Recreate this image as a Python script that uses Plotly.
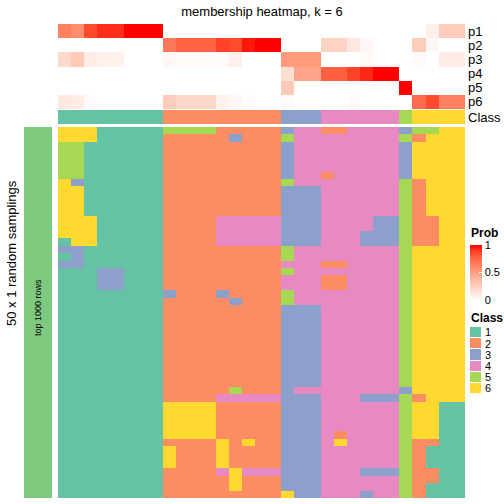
import plotly.graph_objects as go

W = H = 504

# ---------------- data ----------------
columns = list(range(31))
column_class = [1, 1, 1, 1, 1, 1, 1, 1,
                2, 2, 2, 2, 2, 2, 2, 2, 2,
                3, 3, 3,
                4, 4, 4, 4, 4, 4,
                5,
                6, 6, 6, 6]

p1 = [0.64, 0.58, 0.86, 0.92, 0.92, 1, 1, 1,
      0, 0, 0, 0, 0, 0, 0, 0, 0,
      0, 0, 0,
      0, 0, 0, 0, 0, 0,
      0,
      0, 0.08, 0.27, 0.27]
p2 = [0, 0, 0, 0, 0, 0, 0, 0,
      0.68, 0.77, 0.77, 0.77, 0.88, 0.86, 0.96, 1, 1,
      0, 0, 0,
      0.23, 0.23, 0.13, 0.04, 0, 0,
      0,
      0.27, 0.04, 0, 0]
p3 = [0.2, 0.28, 0.1, 0.07, 0.07, 0, 0, 0,
      0.04, 0.03, 0.03, 0.03, 0.03, 0.08, 0, 0, 0,
      0.52, 0.52, 0.52,
      0, 0, 0, 0.03, 0, 0,
      0,
      0.03, 0, 0.1, 0.1]
p4 = [0, 0, 0, 0, 0, 0, 0, 0,
      0, 0, 0, 0, 0, 0, 0, 0, 0,
      0.17, 0.47, 0.47,
      0.78, 0.78, 0.88, 0.93, 1, 1,
      0,
      0, 0, 0, 0]
p5 = [0, 0, 0, 0, 0, 0, 0, 0,
      0, 0, 0, 0, 0, 0, 0, 0, 0,
      0.28, 0, 0,
      0, 0, 0, 0, 0, 0,
      1,
      0, 0, 0, 0]
p6 = [0.12, 0.1, 0.02, 0, 0, 0, 0, 0,
      0.27, 0.21, 0.21, 0.21, 0.07, 0.04, 0.02, 0, 0,
      0.02, 0, 0,
      0, 0, 0.02, 0, 0, 0,
      0,
      0.73, 0.86, 0.64, 0.64]
prob_labels = ["p1", "p2", "p3", "p4", "p5", "p6"]

# class of each column in each of the 50 random samplings
sampling_rows = [
    "66611111" "555522222" "344" "224444" "3" "5566",
    "66611111" "222223222" "544" "444444" "5" "2666",
    "55111111" "222222222" "344" "444444" "3" "6666",
    "55111111" "222222222" "344" "444444" "3" "6666",
    "55111111" "222222222" "344" "444444" "3" "6666",
    "55111111" "222222222" "344" "444444" "3" "6666",
    "55111111" "222222222" "344" "244444" "3" "6666",
    "63111111" "222222222" "544" "444444" "5" "2666",
    "66111111" "222222222" "333" "444444" "5" "2666",
    "66111111" "222222222" "333" "444444" "5" "2666",
    "66111111" "222222222" "333" "444444" "5" "2666",
    "66111111" "222222222" "333" "444444" "5" "2666",
    "66611111" "222244444" "333" "444433" "5" "2266",
    "66611111" "222244444" "333" "444433" "5" "2266",
    "66611111" "222244444" "333" "444333" "5" "2266",
    "16611111" "222244444" "333" "444333" "5" "2266",
    "33111111" "222222222" "544" "444444" "5" "6666",
    "13111111" "222222222" "544" "444444" "5" "6666",
    "33111111" "222222222" "444" "224444" "5" "6666",
    "11133111" "222222222" "544" "444444" "5" "6666",
    "11133111" "222222222" "444" "224444" "5" "6666",
    "11133111" "222222222" "444" "224444" "5" "6666",
    "11111111" "322232222" "544" "444444" "5" "6666",
    "11111111" "222223222" "544" "444444" "5" "6666",
    "11111111" "222222222" "333" "444444" "5" "6666",
    "11111111" "222222222" "333" "444444" "5" "6666",
    "11111111" "222222222" "333" "444444" "5" "6666",
    "11111111" "222222222" "333" "444444" "5" "6666",
    "11111111" "222222222" "333" "444444" "5" "6666",
    "11111111" "222222222" "333" "444444" "5" "6666",
    "11111111" "222222222" "333" "444444" "5" "6666",
    "11111111" "222222222" "333" "444444" "5" "6666",
    "11111111" "222222222" "333" "444444" "5" "6666",
    "11111111" "222222222" "333" "444444" "5" "6666",
    "11111111" "222222222" "333" "444444" "5" "6666",
    "11111111" "222225222" "344" "444444" "3" "6666",
    "11111111" "222244444" "333" "444333" "5" "2666",
    "11111111" "666622222" "333" "444444" "5" "6611",
    "11111111" "666622222" "333" "444444" "5" "6611",
    "11111111" "666622222" "333" "444444" "5" "6611",
    "11111111" "666622222" "333" "444444" "5" "6611",
    "11111111" "666622222" "333" "424444" "5" "6611",
    "11111111" "222262622" "333" "464444" "5" "2211",
    "11111111" "622262222" "333" "444444" "5" "2111",
    "11111111" "622262222" "333" "444444" "5" "2111",
    "11111111" "622262222" "333" "444444" "5" "2111",
    "11111111" "222246444" "333" "444333" "5" "2211",
    "11111111" "222226222" "333" "444444" "5" "2211",
    "11111111" "222226222" "333" "444444" "5" "2111",
    "11111111" "222222222" "633" "444344" "5" "2111",
]

class_names = ["1", "2", "3", "4", "5", "6"]
class_colors = ["#66C2A5", "#FC8D62", "#8DA0CB", "#E78AC3", "#A6D854", "#FFD92F"]
annot_color = "#7FC97F"
FONT = "Liberation Sans, Arial, Helvetica, sans-serif"

# ---------------- helpers ----------------
def fx(x):
    return x / W

def fy(y):
    return 1 - y / H

def discrete_scale(colors):
    n = len(colors)
    sc = []
    for i, c in enumerate(colors):
        sc.append([i / n, c])
        sc.append([(i + 1) / n, c])
    return sc

prob_scale = [[0, "#FFFFFF"], [0.125, "#FFE7DF"], [0.25, "#FFCFBF"],
              [0.375, "#FFB7A0"], [0.5, "#FF9E81"], [0.625, "#FF8464"],
              [0.75, "#FF6846"], [0.875, "#FF4628"], [1, "#FF0000"]]
cls_scale = discrete_scale(class_colors)

sampling_z = [[int(ch) for ch in row] for row in sampling_rows]

fig = go.Figure()

# membership heatmap
fig.add_trace(go.Heatmap(
    z=[p1, p2, p3, p4, p5, p6], x=columns, y=prob_labels,
    colorscale=prob_scale, zmin=0, zmax=1, xaxis="x", yaxis="y",
    hoverinfo="skip",
    colorbar=dict(x=fx(470), xanchor="left", xref="paper",
                  y=fy(245), yanchor="top", yref="paper",
                  lenmode="pixels", len=55, thicknessmode="pixels", thickness=12,
                  xpad=0, ypad=0, outlinewidth=0,
                  ticks="inside", ticklen=3, tickcolor="white", tickwidth=1,
                  tickvals=[0, 0.5, 1], ticktext=["0", "0.5", "1"],
                  tickfont=dict(family=FONT, size=11, color="#000")),
))

# class row
fig.add_trace(go.Heatmap(
    z=[column_class], x=columns, y=["Class"],
    colorscale=cls_scale, zmin=0.5, zmax=6.5, showscale=False,
    xaxis="x", yaxis="y2", hoverinfo="skip",
))

# sampling heatmap
fig.add_trace(go.Heatmap(
    z=sampling_z, x=columns, y=list(range(len(sampling_rows))),
    colorscale=cls_scale, zmin=0.5, zmax=6.5, showscale=False,
    xaxis="x", yaxis="y3", hoverinfo="skip",
))

# left annotation bar
fig.add_trace(go.Heatmap(
    z=[[1]], x=[0], y=[0], colorscale=[[0, annot_color], [1, annot_color]],
    showscale=False, xaxis="x2", yaxis="y4", hoverinfo="skip",
))

# class legend
fig.add_trace(go.Heatmap(
    z=[[i + 1] for i in range(6)], x=[0], y=class_names,
    colorscale=cls_scale, zmin=0.5, zmax=6.5, showscale=False,
    ygap=1, xaxis="x3", yaxis="y5", hoverinfo="skip",
))

hidden = dict(showgrid=False, zeroline=False, showticklabels=False, ticks="",
              showline=False)

fig.update_layout(
    width=W, height=H,
    margin=dict(l=0, r=0, t=0, b=0, autoexpand=False),
    paper_bgcolor="white", plot_bgcolor="white",
    font=dict(family=FONT, color="#000"),
    xaxis=dict(domain=[fx(58), fx(465)], range=[-0.5, 30.5], anchor="y3", **hidden),
    yaxis=dict(domain=[fy(109), fy(24)], anchor="x", autorange="reversed",
               side="right", showgrid=False, zeroline=False, ticks="",
               tickmode="array", tickvals=prob_labels, ticktext=prob_labels,
               tickfont=dict(family=FONT, size=13), ticklabelstandoff=2),
    yaxis2=dict(domain=[fy(124), fy(110)], anchor="x",
                side="right", showgrid=False, zeroline=False, ticks="",
                tickmode="array", tickvals=["Class"], ticktext=["Class"],
                tickfont=dict(family=FONT, size=13), ticklabelstandoff=2),
    yaxis3=dict(domain=[fy(498), fy(127)], anchor="x", autorange="reversed",
                **hidden),
    xaxis2=dict(domain=[fx(24), fx(52)], anchor="y4", **hidden),
    yaxis4=dict(domain=[fy(498), fy(127)], anchor="x2", **hidden),
    xaxis3=dict(domain=[fx(470), fx(481)], anchor="y5", **hidden),
    yaxis5=dict(domain=[fy(394), fy(327)], anchor="x3", autorange="reversed",
                side="right", showgrid=False, zeroline=False, ticks="",
                tickmode="array", tickvals=class_names, ticktext=class_names,
                tickfont=dict(family=FONT, size=11), ticklabelstandoff=3),
    title=dict(text="membership heatmap, k = 6", x=fx(262), xanchor="center",
               xref="paper", y=fy(11), yanchor="middle", yref="paper",
               font=dict(family=FONT, size=13, color="#000")),
    annotations=[
        dict(text="<b>Prob</b>", x=fx(469), y=fy(233), xref="paper", yref="paper",
             xanchor="left", yanchor="middle", showarrow=False,
             font=dict(family=FONT, size=12)),
        dict(text="<b>Class</b>", x=fx(469), y=fy(318), xref="paper", yref="paper",
             xanchor="left", yanchor="middle", showarrow=False,
             font=dict(family=FONT, size=12)),
        dict(text="50 x 1 random samplings", x=fx(11), y=fy(253), xref="paper",
             yref="paper", xanchor="center", yanchor="middle", textangle=-90,
             showarrow=False, font=dict(family=FONT, size=13)),
        dict(text="top 1000 rows", x=fx(38), y=fy(308), xref="paper",
             yref="paper", xanchor="center", yanchor="middle", textangle=-90,
             showarrow=False, font=dict(family=FONT, size=9)),
    ],
)

fig.write_html("out.html",
               config={"displayModeBar": False, "staticPlot": True},
               post_script="document.body.style.margin='0';document.body.style.padding='0';")
